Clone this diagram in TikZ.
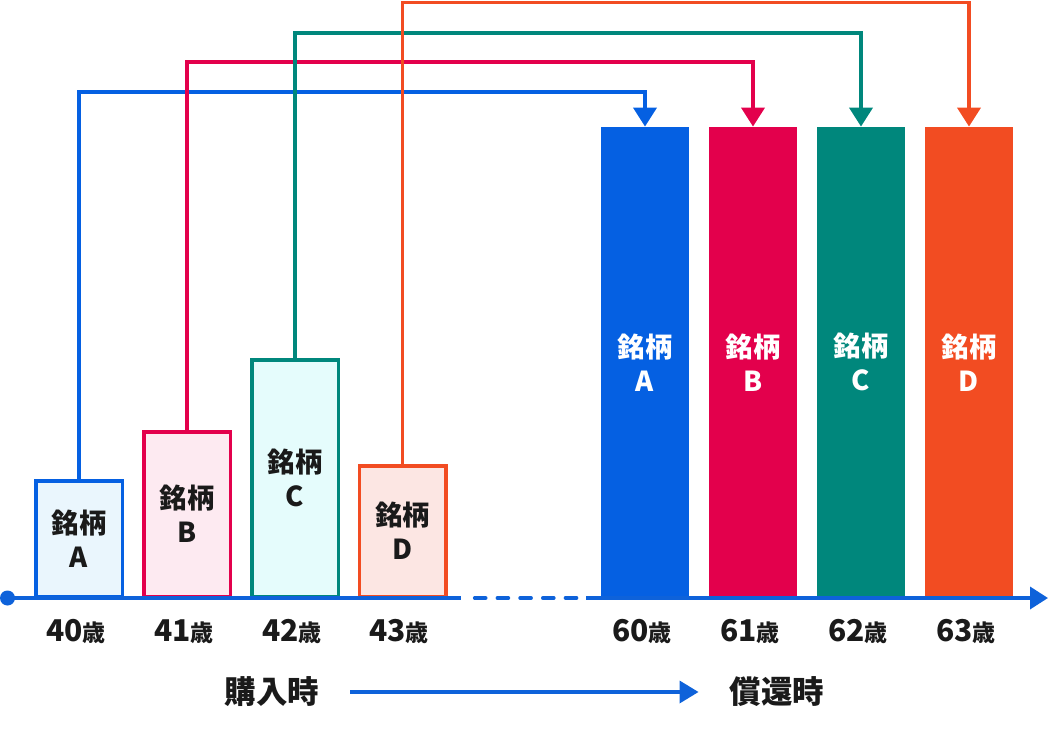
\documentclass[tikz,border=0pt]{standalone}
\usepackage{fontspec}
\setmainfont{Noto Sans CJK JP}
\usetikzlibrary{arrows.meta}
\definecolor{cA}{HTML}{0560E2}
\definecolor{cB}{HTML}{E3004C}
\definecolor{cC}{HTML}{00877C}
\definecolor{cD}{HTML}{F24C22}
\definecolor{fA}{HTML}{EAF6FD}
\definecolor{fB}{HTML}{FDEAF1}
\definecolor{fC}{HTML}{E5FCFC}
\definecolor{fD}{HTML}{FCE6E3}
\definecolor{ink}{HTML}{1A1A1A}
\definecolor{axis}{HTML}{0E62DA}
\begin{document}
\begin{tikzpicture}[x=1pt,y=-1pt,
  lbox/.style={draw, line width=3.5pt, minimum width=86.5pt, anchor=south, inner sep=0pt,
    align=center, text=ink, font=\bfseries\fontsize{27.5}{34}\selectfont},
  rbar/.style={minimum width=88pt, minimum height=471pt, anchor=south, inner sep=0pt,
    align=center, text=white, font=\bfseries\fontsize{27.5}{34}\selectfont},
  conn/.style={line width=3.8pt, -{Triangle[width=23pt,length=19pt]}},
  age/.style={anchor=base, inner sep=0pt, text=ink, font=\bfseries\fontsize{30}{30}\selectfont},
  phase/.style={inner sep=0pt, text=ink, font=\bfseries\fontsize{31.5}{32}\selectfont},
  axisline/.style={draw=axis, line width=3.6pt}
]
\useasboundingbox (0,0) rectangle (1050,730);

% left boxes (purchase)
\node[lbox, draw=cA, fill=fA, minimum height=115.25pt] (boxA) at (79,598) {銘柄\\A};
\node[lbox, draw=cB, fill=fB, minimum height=164.25pt] (boxB) at (187,598) {銘柄\\B};
\node[lbox, draw=cC, fill=fC, minimum height=236.25pt] (boxC) at (295,598) {銘柄\\C};
\node[lbox, draw=cD, fill=fD, minimum height=130.25pt] (boxD) at (402.5,598) {銘柄\\D};

% right bars (redemption)
\node[rbar, fill=cA] (barA) at (645,598) {銘柄\\A};
\node[rbar, fill=cB] (barB) at (753,598) {銘柄\\B};
\node[rbar, fill=cC] (barC) at (861,598) {銘柄\\C};
\node[rbar, fill=cD] (barD) at (969,598) {銘柄\\D};

% connectors
\draw[conn, cA] (boxA.north) -- (boxA.north |- 0,92) -| (barA.north);
\draw[conn, cB] (boxB.north) -- (boxB.north |- 0,62) -| (barB.north);
\draw[conn, cC] (boxC.north) -- (boxC.north |- 0,33) -| (barC.north);
\draw[conn, cD] (boxD.north) -- (boxD.north |- 0,2.5) -| (barD.north);

% time axis
\coordinate (ax0) at (7.5,598);
\coordinate (ax1) at (461,598);
\coordinate (ax2) at (474.7,598);
\coordinate (ax3) at (578,598);
\coordinate (ax4) at (586,598);
\coordinate (ax5) at (1048,598);
\fill[axis] (ax0) circle (7.5);
\draw[axisline] (ax0) -- (ax1);
\draw[axisline, line cap=round, dash pattern=on 11pt off 11.7pt] (ax2) -- (ax3);
\draw[axisline, -{Triangle[width=22pt,length=18pt]}] (ax4) -- (ax5);

% age labels
\node[age] (a40) at (76,641) {40{\fontsize{23}{23}\selectfont 歳}};
\node[age] (a41) at (184,641) {41{\fontsize{23}{23}\selectfont 歳}};
\node[age] (a42) at (292,641) {42{\fontsize{23}{23}\selectfont 歳}};
\node[age] (a43) at (399,641) {43{\fontsize{23}{23}\selectfont 歳}};
\node[age] (a60) at (642,641) {60{\fontsize{23}{23}\selectfont 歳}};
\node[age] (a61) at (750,641) {61{\fontsize{23}{23}\selectfont 歳}};
\node[age] (a62) at (858,641) {62{\fontsize{23}{23}\selectfont 歳}};
\node[age] (a63) at (966,641) {63{\fontsize{23}{23}\selectfont 歳}};

% phase labels
\node[phase] (buy) at (272,692) {購入時};
\node[phase] (redeem) at (777,692) {償還時};
\draw[axisline, -{Triangle[width=22pt,length=19pt]}, shorten <=31pt, shorten >=31pt] (buy.east) -- (redeem.west);
\end{tikzpicture}
\end{document}
